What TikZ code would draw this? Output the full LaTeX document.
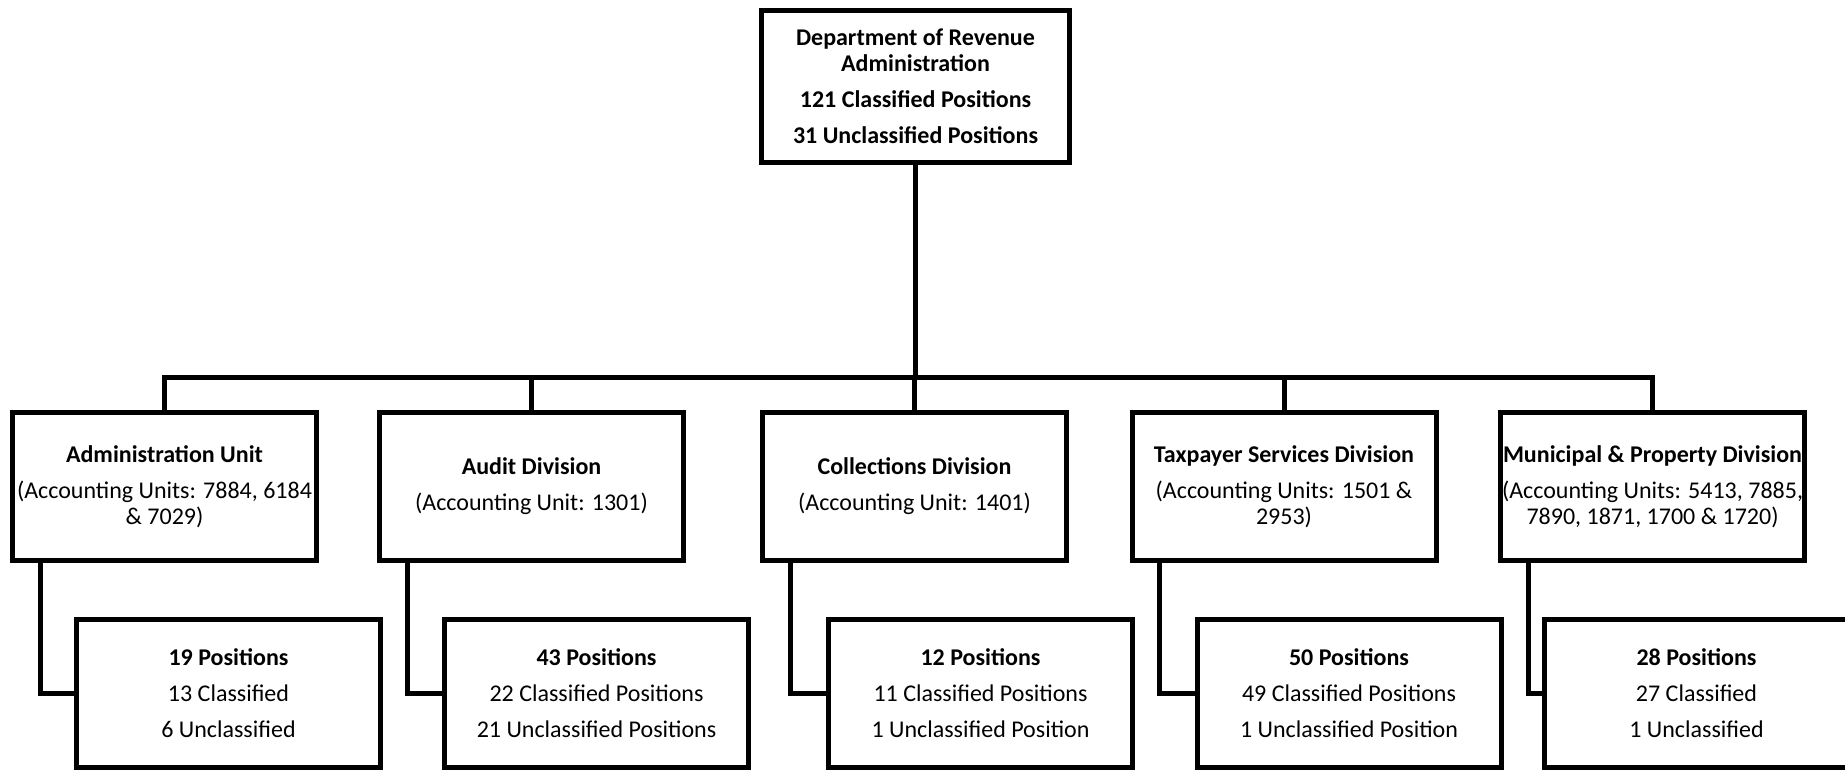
\documentclass[tikz,border=0pt]{standalone}
\usepackage{fontspec}
\setmainfont{Carlito}
\begin{document}
\begin{tikzpicture}[x=0.75pt, y=-0.75pt,
		box/.style={draw, rectangle, line width=3.75pt, align=center, inner sep=0pt,
			font=\fontsize{18pt}{19.5pt}\selectfont},
		headbox/.style={box, minimum width=231pt, minimum height=114pt},
		divbox/.style={box, minimum width=228pt, minimum height=111pt},
		posbox/.style={box, minimum width=228pt, minimum height=111pt},
		link/.style={line width=3.75pt}]
			\useasboundingbox (0,0) rectangle (1845,772);
			\node[headbox] (dra) at (915.5,86.5) {\textbf{Department of Revenue}\\\textbf{Administration}\\[7.5pt]\textbf{121 Classified Positions}\\[7.5pt]\textbf{31 Unclassified Positions}};
			\node[divbox] (adm) at (164.5,486.5) {\textbf{Administration Unit}\\[7.5pt](Accounting Units: 7884, 6184\\\& 7029)};
			\node[divbox] (aud) at (531.5,486.5) {\textbf{Audit Division}\\[7.5pt](Accounting Unit: 1301)};
			\node[divbox] (col) at (914.5,486.5) {\textbf{Collections Division}\\[7.5pt](Accounting Unit: 1401)};
			\node[divbox] (tax) at (1284,486.5) {\textbf{Taxpayer Services Division}\\[7.5pt](Accounting Units: 1501 \&\\2953)};
			\node[divbox] (mun) at (1652.5,486.5) {\textbf{Municipal \& Property Division}\\[7.5pt](Accounting Units: 5413, 7885,\\7890, 1871, 1700 \& 1720)};
			\node[posbox] (admpos) at (228.5,693.5) {\textbf{19 Positions}\\[7.5pt]13 Classified\\[7.5pt]6 Unclassified};
			\node[posbox] (audpos) at (596.5,693.5) {\textbf{43 Positions}\\[7.5pt]22 Classified Positions\\[7.5pt]21 Unclassified Positions};
			\node[posbox] (colpos) at (980.5,693.5) {\textbf{12 Positions}\\[7.5pt]11 Classified Positions\\[7.5pt]1 Unclassified Position};
			\node[posbox] (taxpos) at (1349,693.5) {\textbf{50 Positions}\\[7.5pt]49 Classified Positions\\[7.5pt]1 Unclassified Position};
			\node[posbox] (munpos) at (1696.5,693.5) {\textbf{28 Positions}\\[7.5pt]27 Classified\\[7.5pt]1 Unclassified};
			\coordinate (bus) at (915.5,377);
			\draw[link] (dra.south) -- (bus);
			\draw[link] (adm.north) |- (bus) -| (mun.north);
			\draw[link] (aud.north |- bus) -- (aud.north);
			\draw[link] (col.north |- bus) -- (col.north);
			\draw[link] (tax.north |- bus) -- (tax.north);
			\foreach \unit in {adm,aud,col,tax,mun}
				\draw[link] ([xshift=22.5pt]\unit.south west) |- (\unit pos.west);
		\end{tikzpicture}
\end{document}
